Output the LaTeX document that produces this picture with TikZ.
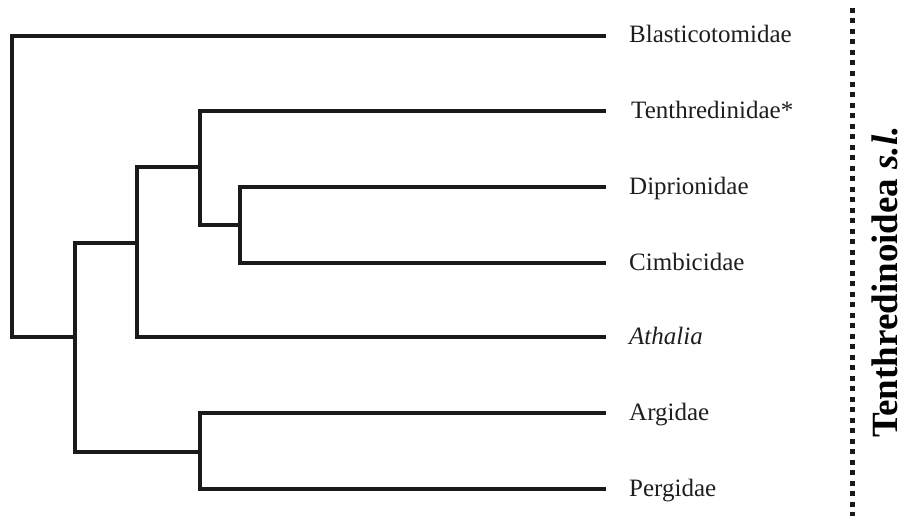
\documentclass[tikz,border=0pt]{standalone}
\usepackage{fontspec}
\setmainfont{Liberation Serif}
\begin{document}
\begin{tikzpicture}[x=1pt,y=1pt,
  branch/.style={line width=4.5pt, draw={rgb,255:red,26;green,26;blue,26}, line join=miter},
  taxon/.style={anchor=base west, inner sep=0pt, font=\fontsize{25}{30}\selectfont, text={rgb,255:red,30;green,30;blue,30}},
  cladebar/.style={line width=5pt, draw={rgb,255:red,26;green,26;blue,26}, dash pattern=on 5pt off 5.5pt},
  cladename/.style={rotate=90, anchor=base, inner sep=0pt, font=\fontsize{37}{44}\selectfont\bfseries}]
\useasboundingbox (0,0) rectangle (904,-519);

% internal nodes (junction with the parent branch)
\coordinate (r) at (12,-337);
\coordinate (a) at (75,-337);
\coordinate (b) at (137,-243);
\coordinate (c) at (200,-167);
\coordinate (d) at (240,-225);
\coordinate (e) at (200,-452);

% branch tips
\coordinate (t1) at (606,-36);
\coordinate (t2) at (606,-111);
\coordinate (t3) at (606,-187);
\coordinate (t4) at (606,-263);
\coordinate (t5) at (606,-337);
\coordinate (t6) at (606,-413);
\coordinate (t7) at (606,-489);

% tree
\draw[branch] (t1) -| (r) -- (a);
\draw[branch] (b) -| (a) |- (e);
\draw[branch] (c) -| (b) |- (t5);
\draw[branch] (t2) -| (c) |- (d);
\draw[branch] (t3) -| (d) |- (t4);
\draw[branch] (t6) -| (e) |- (t7);

% taxon labels
\node[taxon] (n1) at ([xshift=23pt,yshift=-7pt]t1) {Blasticotomidae};
\node[taxon] (n2) at ([xshift=25pt,yshift=-7pt]t2) {Tenthredinidae*};
\node[taxon] (n3) at ([xshift=23pt,yshift=-7pt]t3) {Diprionidae};
\node[taxon] (n4) at ([xshift=23pt,yshift=-7pt]t4) {Cimbicidae};
\node[taxon] (n5) at ([xshift=23pt,yshift=-7pt]t5) {\itshape Athalia};
\node[taxon] (n6) at ([xshift=23pt,yshift=-7pt]t6) {Argidae};
\node[taxon] (n7) at ([xshift=23pt,yshift=-7pt]t7) {Pergidae};

% clade bracket
\coordinate (s1) at (852,-8);
\coordinate (s2) at (852,-516);
\draw[cladebar] (s1) -- (s2);
\node[cladename] (clade) at (897,-282) {Tenthredinoidea \textit{s.l.}};
\end{tikzpicture}
\end{document}
